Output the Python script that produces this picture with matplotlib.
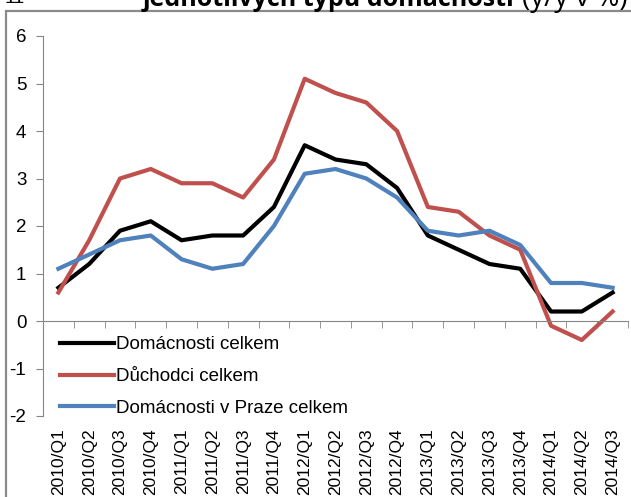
import matplotlib.pyplot as plt
from matplotlib.patches import Rectangle
from matplotlib.ticker import FixedLocator, NullLocator

plt.rcParams['font.family'] = ['Liberation Sans', 'DejaVu Sans']

quarters = ['2010/Q1', '2010/Q2', '2010/Q3', '2010/Q4',
            '2011/Q1', '2011/Q2', '2011/Q3', '2011/Q4',
            '2012/Q1', '2012/Q2', '2012/Q3', '2012/Q4',
            '2013/Q1', '2013/Q2', '2013/Q3', '2013/Q4',
            '2014/Q1', '2014/Q2', '2014/Q3']
domacnosti = [0.7, 1.2, 1.9, 2.1, 1.7, 1.8, 1.8, 2.4, 3.7, 3.4,
              3.3, 2.8, 1.8, 1.5, 1.2, 1.1, 0.2, 0.2, 0.6]
duchodci = [0.6, 1.7, 3.0, 3.2, 2.9, 2.9, 2.6, 3.4, 5.1, 4.8,
            4.6, 4.0, 2.4, 2.3, 1.8, 1.5, -0.1, -0.4, 0.2]
praha = [1.1, 1.4, 1.7, 1.8, 1.3, 1.1, 1.2, 2.0, 3.1, 3.2,
         3.0, 2.6, 1.9, 1.8, 1.9, 1.6, 0.8, 0.8, 0.7]
yticks = [-2, -1, 0, 1, 2, 3, 4, 5, 6]

W, H = 631, 497
fig = plt.figure(figsize=(W / 100, H / 100), dpi=100)
ax = fig.add_axes([43 / W, 1 - 416 / H, 585 / W, 380 / H])

x = list(range(len(quarters)))
ax.plot(x, domacnosti, color='black', lw=3, label='Domácnosti celkem')
ax.plot(x, duchodci, color='#C0504D', lw=3, label='Důchodci celkem')
ax.plot(x, praha, color='#4F81BD', lw=3, label='Domácnosti v Praze celkem')

ax.set_xlim(-0.5, len(quarters) - 0.5)
ax.set_ylim(-2, 6)
ax.set_yticks(yticks)
ax.set_yticklabels([str(v) for v in yticks])

grey = '#868686'
for s in ['top', 'right']:
    ax.spines[s].set_visible(False)
ax.spines['left'].set_color(grey)
ax.spines['bottom'].set_color(grey)
ax.spines['bottom'].set_position(('data', 0))

ax.tick_params(axis='y', direction='out', length=5, color=grey,
               labelsize=13.5, pad=7)
ax.xaxis.set_major_locator(NullLocator())
ax.xaxis.set_minor_locator(FixedLocator([i - 0.5 for i in range(len(quarters) + 1)]))
ax.tick_params(axis='x', which='minor', direction='out', length=5, color=grey)

for i, q in enumerate(quarters):
    ax.text(i, -12 / 380, q, transform=ax.get_xaxis_transform(),
            rotation=90, ha='center', va='top', fontsize=12.5)

ax.legend(loc='upper left', bbox_to_anchor=(0.029, 0.21), frameon=False,
          fontsize=13.5, borderpad=0, borderaxespad=0, handlelength=2.9,
          handletextpad=0.1, labelspacing=0.78)

# outer frame of the chart
fig.patches.append(Rectangle((6 / W, -0.1), 1.2, 1.1 - 10.5 / H,
                             transform=fig.transFigure, fill=False,
                             edgecolor='#8a8a8a', lw=1.6))

# title, cut off at the top of the picture
fig.text(5 / W, 1 - 3 / H, '11', fontsize=14, va='baseline')
fig.text(143 / W, 1 - 6 / H, 'jednotlivých typů domácností', fontsize=18,
         fontweight='bold', va='baseline', family=['Open Sans', 'DejaVu Sans'])
fig.text(522 / W, 1 - 6 / H, '(y/y v %)', fontsize=20, va='baseline',
         family=['Open Sans', 'DejaVu Sans'])

fig.savefig('out.png', dpi=100)
